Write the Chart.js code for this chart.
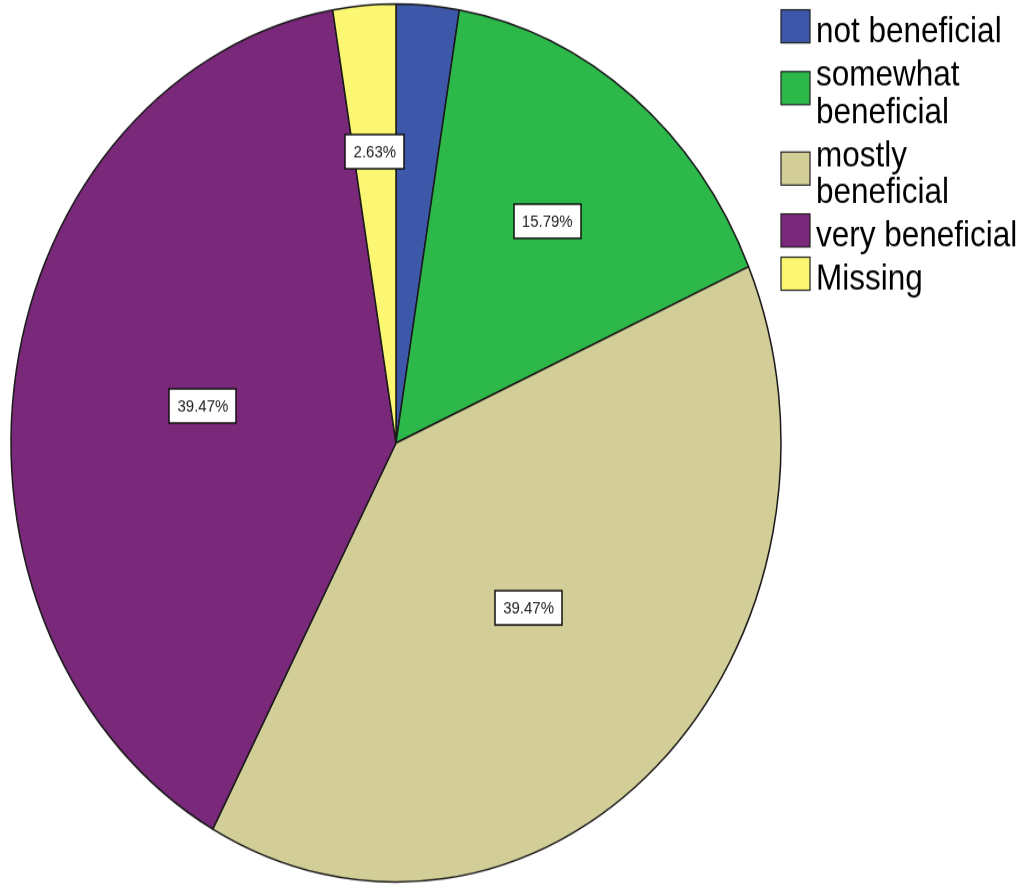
<!DOCTYPE html>
<html>
<head>
<meta charset="utf-8">
<script src="https://cdn.jsdelivr.net/npm/chart.js@4/dist/chart.umd.min.js"></script>
<style>
  html, body { margin: 0; padding: 0; background: #fff; }
</style>
</head>
<body>
<!-- the original picture is stretched vertically, so the canvas is too -->
<canvas id="pie" width="1021" height="777" style="width:1021px;height:886px;display:block"></canvas>
<script>
const categories = ["not beneficial", "somewhat beneficial", "mostly beneficial", "very beneficial", "Missing"];
const percents = [2.63, 15.79, 39.47, 39.47, 2.63];
const colors = ["#3d57a9", "#2db84a", "#d3ce98", "#7a287a", "#fbf772"];

const FONT = '"Liberation Sans", Arial, sans-serif';

const wrapText = (ctx, text, maxWidth) => {
  const words = text.split(" ");
  const lines = [];
  let line = "";
  words.forEach((w) => {
    const test = line ? line + " " + w : w;
    if (line && ctx.measureText(test).width > maxWidth) {
      lines.push(line);
      line = w;
    } else {
      line = test;
    }
  });
  lines.push(line);
  return lines;
};

// percentage boxes at the centroid of each slice, skipped when they overlap
const sliceLabels = {
  id: "sliceLabels",
  afterDatasetsDraw(chart) {
    const ctx = chart.ctx;
    const arcs = chart.getDatasetMeta(0).data;
    const drawn = [];
    ctx.save();
    ctx.font = `15px ${FONT}`;
    ctx.textAlign = "center";
    ctx.textBaseline = "middle";
    for (let i = arcs.length - 1; i >= 0; i--) {
      const a = arcs[i];
      const theta = a.endAngle - a.startAngle;
      const mid = a.startAngle + theta / 2;
      const d = (4 * a.outerRadius * Math.sin(theta / 2)) / (3 * theta);
      const x = a.x + Math.cos(mid) * d;
      const y = a.y + Math.sin(mid) * d;
      const text = percents[i].toFixed(2) + "%";
      const w = Math.round(ctx.measureText(text).width + 16);
      const h = 30;
      const box = { x: Math.round(x - w / 2), y: Math.round(y - h / 2), w, h };
      const hit = drawn.some(
        (b) => box.x < b.x + b.w && b.x < box.x + box.w && box.y < b.y + b.h && b.y < box.y + box.h
      );
      if (hit) continue;
      drawn.push(box);
      ctx.fillStyle = "#fff";
      ctx.fillRect(box.x, box.y, w, h);
      ctx.strokeStyle = "#111";
      ctx.lineWidth = 1.5;
      ctx.strokeRect(box.x, box.y, w, h);
      ctx.fillStyle = "#222";
      ctx.fillText(text, x, y + 1);
    }
    ctx.restore();
  },
};

const sideLegend = {
  id: "sideLegend",
  afterDraw(chart) {
    const ctx = chart.ctx;
    const left = 781;
    const box = 29;
    const lineH = 32.5;
    const gap = 5.5;
    let top = 6.8;
    ctx.save();
    ctx.font = `31.5px ${FONT}`;
    ctx.textAlign = "left";
    ctx.textBaseline = "alphabetic";
    categories.forEach((cat, i) => {
      const lines = wrapText(ctx, cat, 205);
      const blockH = lines.length * lineH;
      const cy = top + blockH / 2;
      ctx.fillStyle = colors[i];
      ctx.fillRect(left, cy - box / 2, box, box);
      ctx.strokeStyle = "#222";
      ctx.lineWidth = 1.2;
      ctx.strokeRect(left, cy - box / 2, box, box);
      ctx.fillStyle = "#000";
      lines.forEach((ln, k) => {
        ctx.fillText(ln, left + 35, top + lineH * k + 30.5);
      });
      top += blockH + gap;
    });
    ctx.restore();
  },
};

const ctx = document.getElementById("pie");
const pieChart = new Chart(ctx, {
  type: "pie",
  data: {
    labels: categories,
    datasets: [
      {
        data: percents,
        backgroundColor: colors,
        borderColor: "#1a1a1a",
        borderWidth: 1.5,
        radius: 385,
        hoverOffset: 0,
      },
    ],
  },
  options: {
    responsive: false,
    animation: false,
    events: [],
    layout: {
      padding: { left: 0, right: 229, top: 0, bottom: 0 },
    },
    plugins: {
      legend: { display: false },
      tooltip: { enabled: false },
    },
  },
  plugins: [sliceLabels, sideLegend],
});
</script>
</body>
</html>
